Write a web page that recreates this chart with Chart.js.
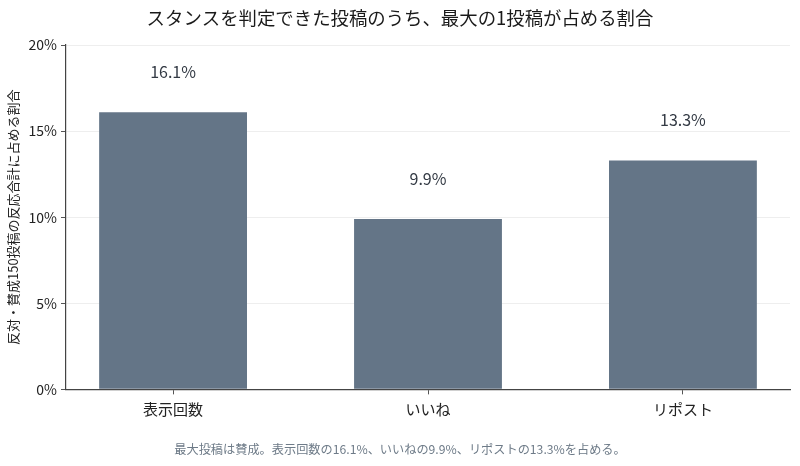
<!DOCTYPE html>
<html><head><meta charset="utf-8">
<script src="https://cdn.jsdelivr.net/npm/chart.js@4/dist/chart.umd.min.js"></script>
<style>html,body{margin:0;padding:0;background:#fff}#wrap{width:800px;height:466px}</style>
</head><body><div id="wrap"><canvas id="c"></canvas></div>
<script>
const categories = ["表示回数", "いいね", "リポスト"];
const shares = [16.1, 9.9, 13.3];
const yTicks = [0, 5, 10, 15, 20];
const titleText = "スタンスを判定できた投稿のうち、最大の1投稿が占める割合";
const yTitle = "反対・賛成150投稿の反応合計に占める割合";
const caption = "最大投稿は賛成。表示回数の16.1%、いいねの9.9%、リポストの13.3%を占める。";

const FONT = "'Noto Sans CJK JP','Noto Sans',sans-serif";
const valueLabels = {
  id: 'valueLabels',
  afterDatasetsDraw(chart) {
    const ctx = chart.ctx;
    const meta = chart.getDatasetMeta(0);
    ctx.save();
    ctx.font = "16px " + FONT;
    ctx.fillStyle = "#333a44";
    ctx.textAlign = "center";
    ctx.textBaseline = "middle";
    meta.data.forEach((bar, i) => {
      ctx.fillText(shares[i].toFixed(1) + "%", bar.x, bar.y - 40);
    });
    ctx.restore();
  }
};

new Chart(document.getElementById('c'), {
  type: 'bar',
  data: {
    datasets: [{
      data: shares.map((v, i) => ({x: i, y: v})),
      backgroundColor: '#647587',
      borderWidth: 0,
      barPercentage: 0.58,
      categoryPercentage: 1.0
    }]
  },
  options: {
    responsive: true,
    maintainAspectRatio: false,
    animation: false,
    layout: {padding: {left: 10, right: 10, top: 0, bottom: 0}},
    plugins: {
      legend: {display: false},
      tooltip: {enabled: false},
      title: {display: true, text: titleText, color: '#1a1a1a', font: {family: FONT, size: 18.4, weight: 'normal'}, padding: {top: 7, bottom: 16}},
      subtitle: {display: true, position: 'bottom', text: caption, color: '#6e7b88', font: {family: FONT, size: 12.2}, padding: {top: 18, bottom: 9}}
    },
    scales: {
      x: {
        type: 'linear',
        offset: false,
        min: -0.42, max: 2.42,
        afterBuildTicks(scale) { scale.ticks = categories.map((c, i) => ({value: i})); },
        ticks: {callback: (v) => categories[v], color: '#222', font: {family: FONT, size: 15}, padding: 6, autoSkip: false, maxRotation: 0},
        grid: {offset: false, drawOnChartArea: false, drawTicks: true, tickLength: 5, tickColor: '#555'},
        border: {color: '#444', width: 1.2}
      },
      y: {
        min: 0, max: 20,
        afterBuildTicks(scale) { scale.ticks = yTicks.map(v => ({value: v})); },
        afterFit(scale) { scale.width = 56; },
        ticks: {callback: (v) => v + '%', color: '#222', font: {family: FONT, size: 14}, padding: 4},
        grid: {color: '#eeeeee', tickLength: 5, tickColor: '#555'},
        border: {color: '#444', width: 1.2},
        title: {display: true, text: yTitle, color: '#222', font: {family: FONT, size: 13}, padding: {top: -5, bottom: 0}}
      }
    }
  },
  plugins: [valueLabels]
});
</script></body></html>
